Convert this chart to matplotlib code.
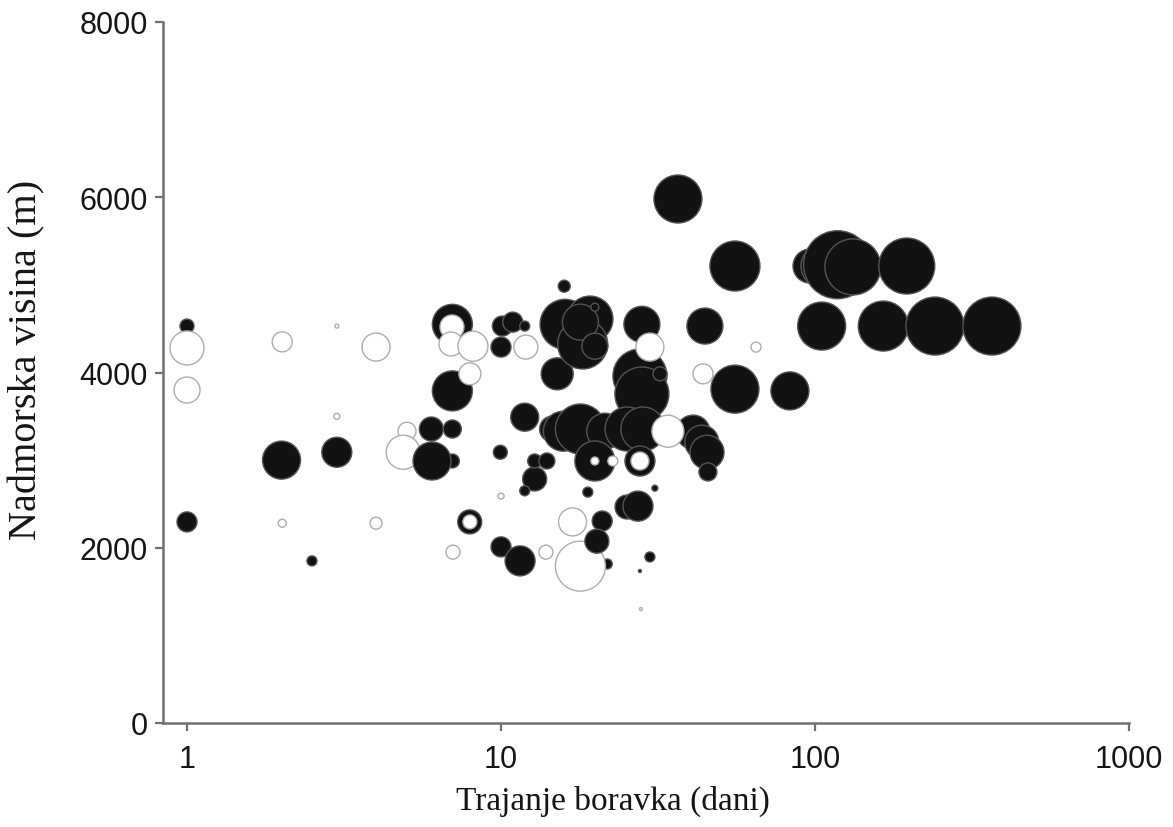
import numpy as np
import matplotlib
matplotlib.use("Agg")
import matplotlib.pyplot as plt

# ---- data (drawing order matters: later points are drawn on top) ----
# duration of stay (days), altitude (m), bubble value, filled (1 = black, 0 = open)
days = [
    # open circles drawn underneath
    5.02, 4.88,
    # filled circles
    1.0, 1.0, 2.0, 2.5, 3.0,
    7.0, 7.0, 6.0, 7.0, 7.0,
    7.95, 10.1, 10.9, 11.9, 10.0,
    15.1, 11.9, 9.95, 12.8, 12.8, 14.0, 11.9, 10.0, 11.5,
    15.9, 16.0, 19.2, 18.2, 17.9, 19.9, 19.9,
    28.1, 27.7, 28.1, 32.1, 44.6, 55.6, 83.2, 36.6, 55.6,
    96.4, 106, 118, 132, 196, 105, 165, 241, 366,
    14.6, 15.8, 17.9, 21.4, 25.2, 28.3, 40.9, 43.6, 45.3, 45.6,
    19.9, 27.7, 18.9, 30.9, 25.2, 27.3, 21.0, 29.8, 27.7, 21.8,
    # open circles
    1.0, 1.0, 2.01, 2.01, 3.0, 3.0, 4.0, 4.0,
    6.98, 6.93, 8.14, 7.96, 12.0, 7.96, 7.03, 10.0, 13.9, 16.9, 17.9,
    29.8, 34.0, 19.9, 22.7, 27.7, 44.0, 64.9, 27.9,
    # filled circles on top
    6.03, 20.2,
]
altitude = [
    3330, 3090,
    4530, 2295, 3000, 1850, 3090,
    4550, 3790, 3355, 3355, 2990,
    2295, 4530, 4575, 4530, 4290,
    3985, 3490, 3090, 2785, 2990, 2990, 2650, 2010, 1850,
    4985, 4550, 4610, 4325, 4575, 4300, 4745,
    4550, 3960, 3755, 3985, 4530, 3810, 3790, 5980, 5215,
    5215, 5215, 5230, 5205, 5215, 4530, 4530, 4530, 4530,
    3355, 3330, 3355, 3330, 3355, 3355, 3320, 3205, 3090, 2865,
    2990, 2990, 2635, 2680, 2465, 2475, 2305, 1895, 1735, 1815,
    4280, 3800, 4350, 2280, 4530, 3500, 4290, 2280,
    4520, 4325, 4300, 3985, 4290, 2295, 1950, 2590, 1950, 2295, 1790,
    4290, 3330, 2990, 2990, 2990, 3985, 4290, 1300,
    2990, 2075,
]
bubble = [
    9, 17,
    7, 10, 19, 5, 15,
    20, 20, 12, 9, 7,
    12, 10, 10, 5, 10,
    16, 14, 7, 12, 7, 8, 5, 10, 15,
    6, 25, 23, 25, 18, 13, 4,
    18, 27, 27, 7, 18, 24, 19, 24, 25,
    17, 22, 34, 28, 28, 24, 25, 29, 29,
    13, 20, 25, 18, 22, 22, 17, 17, 17, 9,
    20, 15, 5, 3, 12, 15, 10, 5, 1.5, 5,
    17, 13, 10, 4, 2, 3, 14, 6,
    12, 12, 15, 11, 12, 7, 7, 3, 7, 14, 25,
    14, 16, 4, 5, 9, 10, 5, 1.5,
    19, 12,
]
filled = (
    [0, 0]
    + [1] * 5 + [1] * 5 + [1] * 5 + [1] * 9 + [1] * 7 + [1] * 9 + [1] * 9
    + [1] * 10 + [1] * 10
    + [0] * 8 + [0] * 11 + [0] * 8
    + [1, 1]
)

x_ticks = [1, 10, 100, 1000]
x_tick_labels = ["1", "10", "100", "1000"]
y_ticks = [0, 2000, 4000, 6000, 8000]
y_tick_labels = ["0", "2000", "4000", "6000", "8000"]

# ---- figure ----
W, H = 1173, 828
fig = plt.figure(figsize=(W / 100, H / 100), dpi=100)
ax = fig.add_axes([163 / W, 1 - 724 / H, (1129 - 163) / W, (724 - 23) / H])

b = np.asarray(bubble, dtype=float)
sizes = (2 * b * 0.72) ** 2
f = np.asarray(filled)
faces = np.where(f[:, None] == 1, np.array([[0.07, 0.07, 0.07, 1]]), np.array([[1, 1, 1, 1]]))
edges = np.where(f[:, None] == 1, np.array([[0.33, 0.33, 0.33, 1]]), np.array([[0.68, 0.68, 0.68, 1]]))

ax.scatter(days, altitude, s=sizes, c=faces, edgecolors=edges, linewidths=1.0, zorder=3)

ax.set_xscale("log")
ax.set_xlim(10 ** (-24 / 314), 1000)
ax.set_ylim(0, 8000)

ax.set_xticks(x_ticks)
ax.set_xticklabels(x_tick_labels)
ax.xaxis.set_minor_locator(matplotlib.ticker.NullLocator())
ax.set_yticks(y_ticks)
ax.set_yticklabels(y_tick_labels)

for side in ["top", "right"]:
    ax.spines[side].set_visible(False)
for side in ["left", "bottom"]:
    ax.spines[side].set_color("#707070")
    ax.spines[side].set_linewidth(1.8)

ax.tick_params(axis="both", colors="#707070", width=1.6, length=6, labelcolor="#151515")
ax.tick_params(axis="x", pad=9)
ax.tick_params(axis="y", pad=5)
for lab in ax.get_xticklabels() + ax.get_yticklabels():
    lab.set_fontfamily("Liberation Sans")
    lab.set_fontsize(22)

ax.set_xlabel("Trajanje boravka (dani)", fontfamily="Liberation Serif", fontsize=24,
              color="#151515")
ax.set_ylabel("Nadmorska visina (m)", fontfamily="Liberation Serif", fontsize=29,
              color="#151515")
ax.xaxis.set_label_coords(0.466, -(786 - 724) / 701)
ax.yaxis.set_label_coords((45 - 163) / 966, 0.52)

fig.savefig("out.png", dpi=100, facecolor="white")
